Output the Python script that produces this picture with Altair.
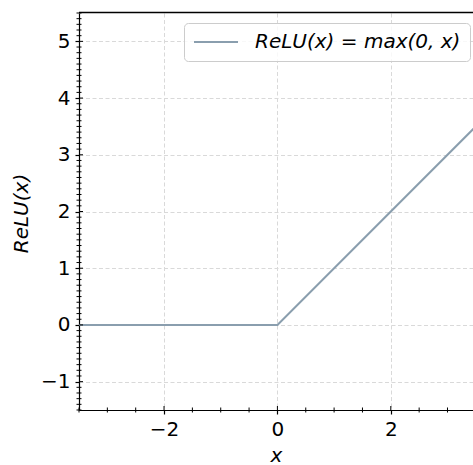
import altair as alt
import pandas as pd

# ReLU curve: breakpoints of max(0, x) across the visible range
x_pts = [-3.5, 0.0, 3.5]
relu_pts = [0.0, 0.0, 3.5]
series_name = "ReLU(x) = max(0, x)"

# tick positions
x_major = [-2, 0, 2]
x_minor = [-3.5, -3.0, -2.5, -1.5, -1.0, -0.5, 0.5, 1.0, 1.5, 2.5, 3.0]
y_major = [-1, 0, 1, 2, 3, 4, 5]
y_minor = [round(-1.5 + 0.1 * i, 1) for i in range(71) if i % 10 != 5]

X_DOMAIN = [-3.5, 3.45]
Y_DOMAIN = [-1.5, 5.5]
W, H = 394, 397
LINE_COLOR = "#8a9eae"
FONT = "DejaVu Sans"

curve = pd.DataFrame({"x": x_pts, "relu": relu_pts, "series": [series_name] * len(x_pts)})

xscale = alt.Scale(domain=X_DOMAIN, nice=False, zero=False)
yscale = alt.Scale(domain=Y_DOMAIN, nice=False, zero=False)

x_axis = alt.Axis(
    values=x_major,
    format="d",
    tickSize=4,
    title="x",
    titleY=51,
    titleBaseline="alphabetic",
)
y_axis = alt.Axis(
    values=y_major,
    format="d",
    tickSize=4,
    title="ReLU(x)",
    titleX=-52,
    titleY=200,
    titleBaseline="alphabetic",
)

line = alt.Chart(curve).mark_line(strokeWidth=2, clip=True).encode(
    x=alt.X("x:Q", scale=xscale, axis=x_axis),
    y=alt.Y("relu:Q", scale=yscale, axis=y_axis),
    color=alt.Color(
        "series:N",
        scale=alt.Scale(range=[LINE_COLOR]),
        legend=alt.Legend(
            title=None,
            orient="none",
            legendX=105,
            legendY=10,
            padding=9,
            fillColor="rgba(255,255,255,0.8)",
            strokeColor="#cccccc",
            cornerRadius=4,
            symbolType="stroke",
            symbolSize=1936,
            symbolStrokeWidth=2,
            clipHeight=20,
            labelFont=FONT,
            labelFontSize=20,
            labelFontStyle="italic",
            labelColor="black",
            labelOffset=16,
            labelLimit=400,
        ),
    ),
)

# short tick marks straddling the left spine
def y_ticks(values, x_from, x_to):
    return alt.Chart(pd.DataFrame({"v": values})).mark_rule(color="black", strokeWidth=1).encode(
        y=alt.Y("v:Q", scale=yscale, axis=y_axis),
        x=alt.value(x_from),
        x2=alt.value(x_to),
    )

# short tick marks straddling the bottom spine
def x_ticks(values, y_from, y_to):
    return alt.Chart(pd.DataFrame({"v": values})).mark_rule(color="black", strokeWidth=1).encode(
        x=alt.X("v:Q", scale=xscale, axis=x_axis),
        y=alt.value(y_from),
        y2=alt.value(y_to),
    )

top_spine = alt.Chart(pd.DataFrame({"v": [0]})).mark_rule(color="black", strokeWidth=1.3).encode(
    y=alt.value(-0.5),
    x=alt.value(0),
    x2=alt.value(W),
)

chart = alt.layer(
    line,
    y_ticks(y_minor, -2.5, 2.5),
    y_ticks(y_major, 0, 4),
    x_ticks(x_minor, H - 2.5, H + 2.5),
    x_ticks(x_major, H - 4, H),
    top_spine,
).properties(
    width=W,
    height=H,
    padding={"left": 79, "top": 13, "right": 0, "bottom": 55},
    autosize=alt.AutoSizeParams(type="none"),
    background="white",
).configure_view(
    stroke="transparent",
).configure_axis(
    labelFont=FONT,
    labelFontSize=20,
    labelColor="black",
    labelPadding=5,
    titleFont=FONT,
    titleFontSize=20,
    titleFontStyle="italic",
    titleFontWeight="normal",
    titleColor="black",
    domainColor="black",
    domainWidth=1.2,
    tickColor="black",
    tickWidth=1.2,
    grid=True,
    gridColor="#d9d9d9",
    gridDash=[4, 2.5],
    gridWidth=1,
)

chart.save("out.html", embed_options={"renderer": "svg", "actions": False})
